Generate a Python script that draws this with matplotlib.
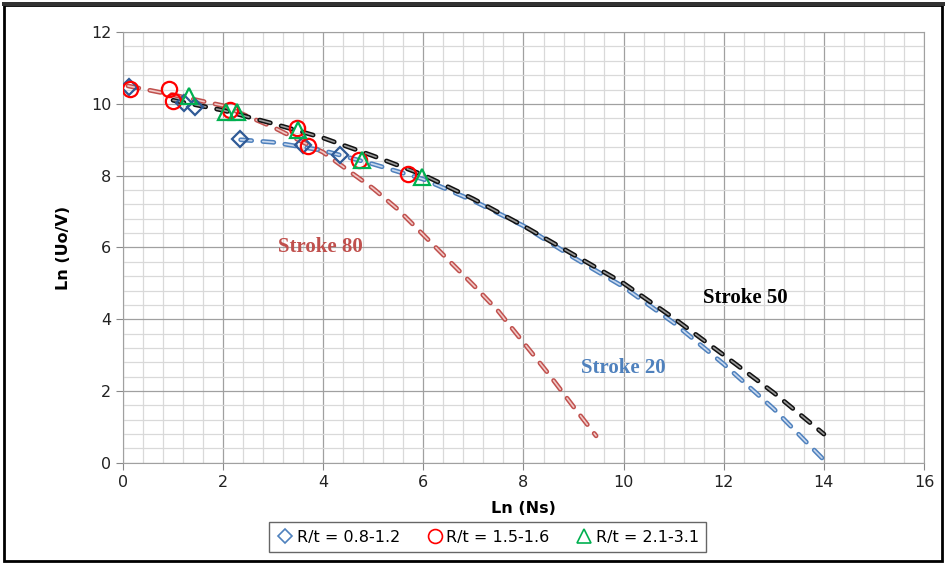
import numpy as np
import matplotlib
matplotlib.use('Agg')
import matplotlib.pyplot as plt
from matplotlib.patches import Rectangle
from matplotlib.lines import Line2D

plt.rcParams['lines.scale_dashes'] = False

# markers (measured points)
dia_x = [0.12, 1.22, 1.43, 2.33, 3.6, 4.34]
dia_y = [10.47, 10.02, 9.9, 9.01, 8.85, 8.57]
cir_x = [0.14, 0.91, 0.99, 2.14, 3.48, 3.69, 4.71, 5.7]
cir_y = [10.41, 10.41, 10.07, 9.84, 9.32, 8.82, 8.45, 8.06]
tri_x = [1.32, 2.05, 2.28, 3.5, 4.78, 5.98]
tri_y = [10.21, 9.77, 9.76, 9.27, 8.43, 7.95]

# fitted curves
s80_x = [0.1, 1, 2, 3, 4, 5, 5.5, 6, 6.5, 7, 7.5, 8, 8.5, 9, 9.45]
s80_y = [10.5, 10.25, 9.95, 9.35, 8.65, 7.64, 7.05, 6.35, 5.65, 4.95, 4.22, 3.35, 2.48, 1.56, 0.75]
s50_x = [1, 2, 3, 4, 5, 6, 7, 8, 9, 10, 11, 12, 13, 14]
s50_y = [10.1, 9.82, 9.45, 9.05, 8.55, 8.02, 7.35, 6.6, 5.8, 5.0, 4.03, 3.0, 1.95, 0.8]
s20_x = [2.35, 3, 4, 5, 6, 7, 8, 9, 10, 11, 12, 13, 14]
s20_y = [9.0, 8.93, 8.7, 8.32, 7.9, 7.3, 6.6, 5.72, 4.9, 3.9, 2.75, 1.5, 0.08]

fig = plt.figure(figsize=(9.48, 5.63), dpi=100)
ax = fig.add_axes([0.1297, 0.178, 0.845, 0.765])

ax.set_xlim(0, 16)
ax.set_ylim(0, 12)
ax.set_xticks(np.arange(0, 17, 2))
ax.set_yticks(np.arange(0, 13, 2))
ax.set_xticks(np.arange(0, 16.01, 0.4), minor=True)
ax.set_yticks(np.arange(0, 12.01, 0.4), minor=True)
ax.grid(which='minor', color='#d9d9d9', lw=0.9)
ax.grid(which='major', color='#a0a0a0', lw=0.9)
ax.set_axisbelow(True)
ax.tick_params(which='minor', length=0)
ax.tick_params(which='major', length=5, color='#888888', labelsize=11.5,
               labelcolor='#222222', direction='out')
for s in ax.spines.values():
    s.set_color('#a0a0a0')


def tube(x, y, outer, inner):
    ax.plot(x, y, color=outer, lw=3.4, dashes=(8, 8), dash_capstyle='round', zorder=3)
    ax.plot(x, y, color=inner, lw=1.2, dashes=(8, 8), dash_capstyle='round', zorder=3)


tube(s80_x, s80_y, '#c0504d', '#f0c8c6')
tube(s20_x, s20_y, '#4f81bd', '#c8d8ee')
tube(s50_x, s50_y, '#111111', '#9a9a9a')

ax.plot(dia_x, dia_y, ls='none', marker='D', ms=8, mfc='none', mec='#2f5a96', mew=1.6, zorder=4)
ax.plot(cir_x, cir_y, ls='none', marker='o', ms=11, mfc='none', mec='#ff0000', mew=1.6, zorder=4)
ax.plot(tri_x, tri_y, ls='none', marker='^', ms=11, mfc='none', mec='#00b050', mew=1.6, zorder=4)

sfont = dict(fontsize=15, fontweight='bold', family='Liberation Serif', ha='center', va='center')
ax.text(3.95, 6.0, 'Stroke 80', color='#c0504d', **sfont)
ax.text(12.43, 4.6, 'Stroke 50', color='black', **sfont)
ax.text(10.0, 2.65, 'Stroke 20', color='#4f81bd', **sfont)

ax.set_xlabel('Ln (Ns)', fontsize=11.5, fontweight='bold', labelpad=8)
ax.set_ylabel('Ln (Uo/V)', fontsize=11.5, fontweight='bold', labelpad=14)

handles = [
    Line2D([], [], ls='none', marker='D', ms=7, mfc='none', mec='#4f81bd', mew=1.2),
    Line2D([], [], ls='none', marker='o', ms=10, mfc='none', mec='#ff0000', mew=1.2),
    Line2D([], [], ls='none', marker='^', ms=10, mfc='none', mec='#00b050', mew=1.2),
]
labels = ['R/t = 0.8-1.2', 'R/t = 1.5-1.6', 'R/t = 2.1-3.1']
leg = fig.legend(handles, labels, loc='center', bbox_to_anchor=(0.514, 0.046), ncol=3,
                 frameon=True, fancybox=False, edgecolor='#404040', fontsize=11.5,
                 handletextpad=0.1, columnspacing=1.6, borderpad=0.45, handlelength=1.2)
leg.get_frame().set_linewidth(1.0)

fig.patches.append(Rectangle((0.004, 0.004), 0.99, 0.988, transform=fig.transFigure,
                             fill=False, edgecolor='black', lw=2.0))
fig.patches.append(Rectangle((0.002, 0.99), 0.995, 0.006, transform=fig.transFigure,
                             facecolor='#333333', edgecolor='none'))

fig.savefig('out.png', dpi=100)
